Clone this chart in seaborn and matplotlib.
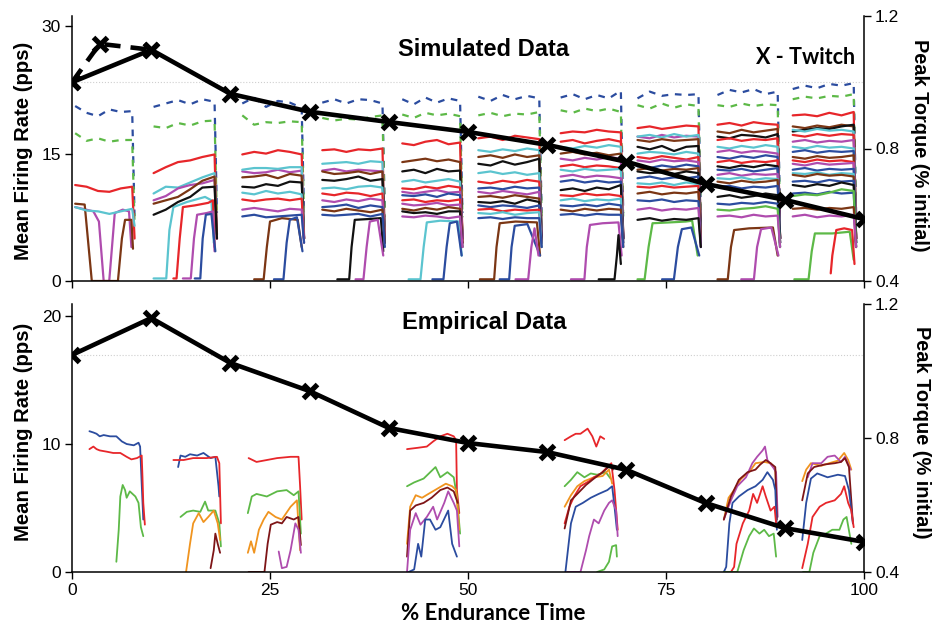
import numpy as np
import matplotlib
matplotlib.use("Agg")
import matplotlib.pyplot as plt
import seaborn as sns
import pandas as pd

sns.set_style("ticks")
plt.rcParams["font.family"] = ["Liberation Sans", "DejaVu Sans"]

COL = {"b": "#2B4C9F", "g": "#5DB947", "r": "#E7262A", "c": "#5BC4CF", "m": "#AF4CAE",
       "n": "#7B3614", "k": "#111111", "o": "#F0941F", "d": "#7E1517"}

# ---------------- twitch torque (right axes) ----------------
twitch_x = [0, 10, 20, 30, 40, 50, 60, 70, 80, 90, 100]
sim_twitch = [1.0, 1.098, 0.965, 0.911, 0.880, 0.850, 0.811, 0.760, 0.693, 0.645, 0.587]
sim_twitch_early_x = [0, 3.5, 10]
sim_twitch_early = [1.0, 1.116, 1.098]
emp_twitch = [1.048, 1.158, 1.024, 0.940, 0.830, 0.785, 0.758, 0.705, 0.606, 0.531, 0.490]

# ---------------- simulated firing rates ----------------
sim_t0 = [0.4, 10.3, 21.5, 31.6, 41.7, 51.3, 61.7, 71.4, 81.5, 91.0]
sim_t1 = [7.6, 18.0, 29.0, 39.2, 49.0, 59.0, 69.3, 79.1, 89.1, 98.7]

sim_plateau_1 = [
    ("b", "--", [20.6, 19.8, 19.4, 20.2, 19.9, 20.0], 7.5),
    ("g", "--", [17.4, 16.5, 16.8, 16.4, 16.6, 16.6], 6.8),
    ("r", "-", [11.3, 11.1, 10.6, 10.5, 10.9, 11.1], 5.0),
    ("c", "-", [8.7, 8.3, 8.2, 7.9, 8.2, 8.5], 6.5),
]
sim_recruit_1 = [
    ("m", [0.4, 2.7, 3.4, 4.0, 4.7, 5.4, 6.4, 7.2, 7.5], [8.7, 8.2, 7.0, 0.0, 0.0, 8.0, 8.4, 8.2, 4.0]),
    ("n", [0.4, 1.6, 2.0, 2.5, 5.8, 6.3, 6.7, 7.5, 7.7], [9.1, 9.0, 5.0, 0.0, 0.0, 5.0, 7.2, 7.2, 3.8]),
]
sim_plateau_2 = [
    ("b", "--", [20.5, 20.9, 21.3, 20.8, 21.4, 21.1], 8.0),
    ("g", "--", [18.2, 18.0, 18.6, 18.3, 18.8, 18.9], 7.5),
    ("r", "-", [12.7, 13.4, 14.0, 14.2, 14.6, 14.9], 5.0),
    ("c", "-", [10.3, 11.1, 11.0, 11.6, 12.2, 12.7], 5.5),
    ("m", "-", [9.5, 10.0, 10.9, 11.3, 11.5, 11.9], 5.0),
    ("n", "-", [9.1, 9.5, 9.9, 10.8, 11.8, 12.3], 5.5),
    ("k", "-", [7.8, 8.4, 9.3, 9.9, 11.0, 11.1], 5.0),
]
sim_recruit_2 = [
    ("c", [10.3, 11.9, 12.3, 12.8, 14.5, 16.8, 17.6, 17.9], [0.3, 0.3, 6.0, 8.7, 9.3, 9.9, 9.5, 4.5]),
    ("r", [12.8, 13.2, 13.6, 14.0, 15.5, 17.2, 17.8, 18.0], [0.3, 0.3, 5.0, 8.7, 8.9, 9.2, 9.5, 4.0]),
    ("m", [14.0, 15.0, 15.4, 15.8, 17.0, 17.8, 18.0], [0.3, 0.3, 5.0, 7.8, 8.0, 8.2, 3.5]),
    ("b", [15.5, 16.2, 16.5, 16.9, 17.6, 18.1], [0.3, 0.3, 5.0, 7.8, 7.9, 3.5]),
]
sim_plateau_3 = [
    ("b", "--", [20.9, 21.6, 20.5, 21.2, 21.0, 20.4], 8.0),
    ("g", "--", [19.5, 18.4, 18.7, 18.6, 18.8, 18.7], 7.5),
    ("r", "-", [14.9, 15.2, 15.0, 15.4, 15.2, 14.9], 5.0),
    ("m", "-", [12.9, 12.7, 12.8, 13.1, 12.8, 13.0], 5.0),
    ("c", "-", [13.1, 13.3, 13.3, 13.2, 13.4, 13.4], 5.5),
    ("n", "-", [12.2, 12.3, 12.5, 12.1, 12.6, 12.4], 5.0),
    ("k", "-", [11.1, 11.0, 11.4, 11.2, 11.7, 11.6], 5.0),
    ("c", "-", [10.4, 10.2, 10.6, 10.3, 10.5, 10.2], 5.0),
    ("r", "-", [9.6, 9.4, 9.6, 9.7, 9.5, 9.7], 5.0),
    ("m", "-", [8.4, 8.6, 8.4, 8.2, 8.5, 8.4], 4.5),
    ("b", "-", [7.6, 7.8, 7.5, 7.6, 7.7, 7.8], 4.5),
]
sim_recruit_3 = [
    ("n", [23.0, 24.2, 24.6, 25.0, 26.5, 28.5, 29.0], [0.2, 0.2, 4.0, 7.0, 7.4, 7.2, 4.0]),
    ("b", [25.5, 26.7, 27.1, 27.5, 28.4, 29.1], [0.2, 0.2, 4.5, 7.2, 7.5, 3.5]),
]
sim_plateau_4 = [
    ("b", "--", [21.0, 21.4, 20.9, 21.4, 21.3, 20.9], 8.0),
    ("g", "--", [19.2, 18.9, 19.1, 19.0, 19.3, 19.5], 7.5),
    ("r", "-", [15.4, 15.5, 15.2, 15.5, 15.4, 15.6], 5.0),
    ("c", "-", [13.8, 13.9, 14.0, 13.8, 14.1, 14.0], 5.0),
    ("m", "-", [13.0, 13.2, 12.9, 13.1, 13.0, 12.9], 5.0),
    ("n", "-", [12.9, 12.6, 12.7, 12.9, 12.6, 12.9], 5.0),
    ("k", "-", [11.9, 11.8, 12.0, 12.3, 11.8, 12.0], 5.0),
    ("c", "-", [10.9, 11.0, 10.8, 11.1, 11.2, 11.0], 5.0),
    ("r", "-", [10.3, 10.1, 10.4, 10.3, 10.0, 10.3], 5.0),
    ("m", "-", [9.5, 9.3, 9.6, 9.4, 9.7, 9.5], 4.5),
    ("b", "-", [8.7, 8.8, 9.0, 8.6, 8.9, 8.7], 4.5),
    ("n", "-", [8.4, 8.2, 8.5, 8.3, 8.1, 8.4], 4.5),
    ("b", "-", [7.8, 7.7, 7.8, 7.9, 7.6, 7.9], 4.0),
]
sim_recruit_4 = [
    ("k", [33.5, 35.0, 35.3, 35.7, 37.5, 39.0, 39.3], [0.2, 0.2, 4.0, 7.2, 7.3, 7.4, 3.5]),
    ("m", [35.8, 36.8, 37.2, 37.6, 38.6, 39.3], [0.2, 0.2, 4.0, 7.0, 7.2, 3.0]),
]
sim_plateau_5 = [
    ("b", "--", [21.4, 20.8, 21.6, 21.0, 21.5, 21.2], 8.0),
    ("g", "--", [19.6, 19.2, 19.8, 19.5, 19.7, 19.4], 7.5),
    ("r", "-", [16.2, 16.0, 16.4, 16.6, 16.1, 16.3], 5.0),
    ("n", "-", [14.0, 14.2, 14.4, 14.1, 14.3, 14.0], 5.0),
    ("k", "-", [12.9, 13.1, 12.7, 13.2, 12.9, 13.0], 5.0),
    ("c", "-", [11.7, 11.9, 11.6, 11.8, 12.0, 11.7], 5.0),
    ("r", "-", [10.9, 10.8, 11.1, 10.9, 11.2, 11.0], 5.0),
    ("m", "-", [10.5, 10.3, 10.5, 10.7, 10.4, 10.5], 5.0),
    ("b", "-", [10.1, 10.0, 10.2, 9.9, 10.3, 10.1], 5.0),
    ("r", "-", [9.5, 9.6, 9.3, 9.5, 9.4, 9.6], 4.5),
    ("m", "-", [9.1, 8.9, 9.0, 9.2, 8.9, 9.0], 4.5),
    ("n", "-", [8.5, 8.3, 8.6, 8.4, 8.7, 8.5], 4.5),
    ("k", "-", [8.2, 8.0, 8.1, 7.9, 8.2, 8.2], 4.0),
    ("m", "-", [7.6, 7.5, 7.7, 7.6, 7.4, 7.6], 4.0),
]
sim_recruit_5 = [
    ("c", [42.5, 44.0, 44.4, 44.8, 46.5, 48.8, 49.2], [0.2, 0.2, 4.0, 6.9, 7.1, 7.0, 3.0]),
    ("b", [45.5, 46.9, 47.3, 47.7, 48.6, 49.2], [0.2, 0.2, 4.0, 6.8, 7.0, 3.0]),
]
sim_plateau_6 = [
    ("b", "--", [21.7, 21.2, 21.9, 21.4, 21.8, 21.5], 8.0),
    ("g", "--", [19.5, 19.8, 19.4, 19.7, 19.6, 19.9], 7.5),
    ("r", "-", [16.8, 17.0, 16.6, 17.1, 16.9, 16.7], 5.0),
    ("c", "-", [15.4, 15.2, 15.5, 15.3, 15.6, 15.4], 5.0),
    ("n", "-", [14.6, 14.8, 14.5, 14.9, 14.6, 14.8], 5.0),
    ("k", "-", [13.8, 13.6, 14.1, 13.7, 14.0, 14.4], 5.0),
    ("c", "-", [12.7, 12.9, 12.6, 12.8, 12.5, 12.7], 5.0),
    ("r", "-", [11.7, 11.5, 11.8, 11.6, 11.9, 11.7], 5.0),
    ("b", "-", [10.9, 11.0, 10.8, 11.1, 10.9, 11.0], 5.0),
    ("m", "-", [10.5, 10.3, 10.6, 10.4, 10.2, 10.5], 4.5),
    ("n", "-", [9.9, 10.0, 9.8, 10.1, 9.9, 9.7], 4.5),
    ("k", "-", [9.3, 9.2, 9.4, 9.1, 9.6, 9.3], 4.5),
    ("b", "-", [8.9, 8.7, 8.9, 8.8, 8.6, 8.9], 4.5),
    ("r", "-", [8.4, 8.5, 8.2, 8.4, 8.3, 8.4], 4.0),
    ("c", "-", [8.0, 7.9, 8.1, 7.8, 8.0, 8.1], 4.0),
    ("b", "-", [7.4, 7.5, 7.3, 7.5, 7.4, 7.4], 4.0),
]
sim_recruit_6 = [
    ("n", [51.5, 53.3, 53.6, 54.0, 56.0, 58.7, 59.1], [0.2, 0.2, 4.0, 6.8, 7.0, 6.9, 3.0]),
    ("b", [54.0, 55.2, 55.5, 55.9, 57.5, 59.1], [0.2, 0.2, 4.0, 6.5, 6.7, 3.0]),
    ("m", [56.0, 57.6, 58.0, 58.4, 58.9], [0.2, 0.2, 4.0, 6.2, 3.0]),
]
sim_plateau_7 = [
    ("b", "--", [21.6, 22.0, 21.4, 21.9, 21.5, 22.4], 8.0),
    ("g", "--", [20.1, 19.8, 20.3, 20.0, 20.3, 19.9], 7.5),
    ("r", "-", [17.4, 17.6, 17.5, 17.8, 17.6, 17.5], 5.0),
    ("r", "-", [16.4, 16.6, 16.2, 16.5, 16.7, 16.4], 5.0),
    ("c", "-", [15.8, 15.6, 15.9, 15.7, 16.0, 15.8], 5.0),
    ("n", "-", [15.0, 15.2, 14.9, 15.1, 14.8, 15.0], 5.0),
    ("m", "-", [14.4, 14.2, 14.5, 14.3, 14.6, 14.4], 5.0),
    ("r", "-", [13.5, 13.7, 13.4, 13.6, 13.5, 13.3], 5.0),
    ("c", "-", [13.1, 12.9, 13.2, 13.0, 13.1, 13.2], 5.0),
    ("m", "-", [12.3, 12.5, 12.2, 12.4, 12.3, 12.1], 5.0),
    ("b", "-", [11.7, 11.9, 11.6, 11.8, 11.6, 11.7], 5.0),
    ("k", "-", [10.7, 10.9, 10.6, 11.0, 10.8, 11.3], 5.0),
    ("r", "-", [10.1, 10.0, 10.3, 10.1, 10.2, 10.0], 4.5),
    ("c", "-", [9.5, 9.7, 9.4, 9.6, 9.5, 9.7], 4.5),
    ("b", "-", [8.9, 8.8, 9.0, 8.8, 9.1, 8.9], 4.5),
    ("n", "-", [8.4, 8.2, 8.5, 8.3, 8.5, 8.4], 4.0),
    ("b", "-", [7.8, 7.9, 7.7, 7.9, 7.8, 7.8], 4.0),
]
sim_recruit_7 = [
    ("m", [63.0, 64.7, 65.0, 65.4, 67.0, 69.0, 69.4], [0.2, 0.2, 4.0, 6.6, 6.8, 6.9, 3.0]),
    ("k", [66.5, 68.5, 68.8, 69.0, 69.3], [0.2, 0.2, 3.0, 5.4, 2.0]),
]
sim_plateau_8 = [
    ("b", "--", [21.5, 22.3, 21.8, 22.0, 21.9, 22.0], 8.0),
    ("g", "--", [20.7, 20.3, 20.9, 20.4, 20.8, 20.6], 7.5),
    ("r", "-", [18.0, 18.2, 17.9, 18.1, 18.3, 18.2], 5.0),
    ("m", "-", [17.0, 16.8, 17.2, 16.9, 17.1, 17.0], 5.0),
    ("c", "-", [17.0, 17.2, 16.9, 17.3, 17.0, 17.2], 5.0),
    ("n", "-", [16.6, 16.4, 16.7, 16.5, 16.6, 16.7], 5.0),
    ("k", "-", [15.8, 15.5, 15.9, 15.3, 15.8, 15.9], 5.0),
    ("c", "-", [15.0, 15.2, 15.1, 14.9, 15.2, 15.0], 5.0),
    ("r", "-", [14.6, 14.4, 14.7, 14.5, 14.3, 14.6], 5.0),
    ("m", "-", [14.2, 14.0, 14.3, 14.1, 14.2, 14.0], 5.0),
    ("b", "-", [13.5, 13.3, 13.6, 13.4, 13.7, 13.5], 5.0),
    ("n", "-", [13.1, 13.3, 13.0, 13.2, 13.1, 13.3], 5.0),
    ("k", "-", [12.9, 12.7, 12.8, 12.6, 12.9, 12.7], 5.0),
    ("b", "-", [12.1, 12.3, 12.0, 12.2, 12.1, 12.3], 4.5),
    ("c", "-", [11.5, 11.4, 11.6, 11.3, 11.6, 11.4], 4.5),
    ("r", "-", [11.1, 11.0, 11.2, 11.0, 11.1, 11.2], 4.5),
    ("n", "-", [10.3, 10.5, 10.2, 10.4, 10.3, 10.5], 4.5),
    ("b", "-", [9.5, 9.4, 9.6, 9.3, 9.5, 9.4], 4.0),
    ("m", "-", [8.4, 8.6, 8.3, 8.5, 8.4, 8.6], 4.0),
    ("k", "-", [7.2, 7.4, 7.1, 7.3, 7.2, 7.4], 4.0),
]
sim_recruit_8 = [
    ("g", [71.4, 72.3, 72.8, 73.3, 75.5, 77.5, 78.3, 79.0], [0.2, 0.2, 4.0, 6.8, 6.9, 7.0, 7.1, 3.0]),
    ("b", [74.5, 76.0, 76.5, 77.0, 78.2, 79.2], [0.2, 0.2, 4.0, 6.1, 6.3, 3.0]),
]
sim_plateau_9 = [
    ("b", "--", [21.9, 22.5, 22.2, 22.6, 22.0, 22.3], 8.0),
    ("g", "--", [20.7, 20.5, 20.9, 20.6, 20.8, 20.7], 7.5),
    ("r", "-", [18.4, 18.6, 18.3, 18.7, 18.5, 18.4], 5.0),
    ("n", "-", [17.6, 17.4, 17.8, 17.5, 17.7, 17.9], 5.0),
    ("k", "-", [17.0, 16.8, 17.2, 17.1, 16.9, 17.3], 5.0),
    ("r", "-", [16.6, 16.8, 16.5, 16.7, 16.6, 16.8], 5.0),
    ("c", "-", [15.8, 15.6, 15.9, 15.7, 16.0, 15.8], 5.0),
    ("m", "-", [15.2, 15.4, 15.1, 15.3, 15.2, 15.0], 5.0),
    ("b", "-", [14.6, 14.4, 14.7, 14.5, 14.8, 14.6], 5.0),
    ("r", "-", [14.0, 14.2, 13.9, 14.1, 14.0, 14.2], 5.0),
    ("k", "-", [13.5, 13.3, 13.6, 13.4, 13.7, 13.5], 5.0),
    ("b", "-", [13.1, 13.0, 13.2, 12.9, 13.1, 13.3], 5.0),
    ("m", "-", [12.5, 12.7, 12.4, 12.6, 12.5, 12.6], 4.5),
    ("c", "-", [12.1, 12.0, 12.2, 11.9, 12.1, 12.0], 4.5),
    ("n", "-", [11.7, 11.5, 11.8, 11.6, 11.7, 11.9], 4.5),
    ("b", "-", [11.1, 11.2, 10.9, 11.1, 11.0, 11.2], 4.5),
    ("k", "-", [9.9, 10.1, 9.8, 10.0, 10.3, 10.1], 4.5),
    ("b", "-", [9.1, 9.0, 9.2, 9.1, 9.3, 9.1], 4.0),
    ("g", "-", [8.4, 8.3, 8.5, 8.6, 8.8, 8.5], 4.0),
    ("m", "-", [7.6, 7.7, 7.5, 7.8, 7.6, 7.7], 4.0),
]
sim_recruit_9 = [
    ("n", [81.5, 82.8, 83.2, 83.6, 85.5, 88.5, 89.1], [0.2, 0.2, 4.0, 6.0, 6.2, 6.3, 3.0]),
    ("m", [84.5, 86.1, 86.5, 87.0, 88.3, 89.2], [0.2, 0.2, 4.0, 6.1, 6.3, 3.0]),
]
sim_plateau_10 = [
    ("b", "--", [22.6, 23.0, 22.7, 23.2, 23.0, 23.3], 8.0),
    ("g", "--", [21.4, 21.7, 21.5, 21.8, 21.7, 22.0], 7.5),
    ("r", "-", [19.5, 19.6, 19.4, 19.8, 19.5, 19.9], 5.0),
    ("n", "-", [18.2, 18.0, 18.3, 18.1, 18.4, 18.2], 5.0),
    ("k", "-", [17.6, 17.8, 18.0, 17.9, 18.2, 18.4], 5.0),
    ("c", "-", [17.8, 17.6, 17.9, 17.7, 17.8, 17.6], 5.0),
    ("r", "-", [17.2, 17.0, 17.3, 17.1, 17.3, 17.2], 5.0),
    ("m", "-", [16.4, 16.6, 16.3, 16.5, 16.4, 16.6], 5.0),
    ("c", "-", [15.8, 15.6, 15.9, 15.7, 15.8, 15.6], 5.0),
    ("b", "-", [15.2, 15.4, 15.1, 15.3, 15.2, 15.3], 5.0),
    ("n", "-", [14.6, 14.4, 14.7, 14.5, 14.6, 14.8], 5.0),
    ("r", "-", [14.2, 14.0, 14.3, 14.1, 14.2, 14.0], 5.0),
    ("m", "-", [13.8, 13.6, 13.9, 13.7, 13.8, 13.9], 5.0),
    ("b", "-", [13.1, 13.3, 13.0, 13.2, 13.1, 13.2], 4.5),
    ("c", "-", [12.7, 12.6, 12.8, 12.5, 12.7, 12.6], 4.5),
    ("n", "-", [12.5, 12.3, 12.6, 12.4, 12.5, 12.3], 4.5),
    ("b", "-", [11.7, 11.8, 11.6, 11.9, 11.7, 11.8], 4.5),
    ("k", "-", [11.3, 11.1, 11.4, 11.2, 11.6, 11.3], 4.5),
    ("b", "-", [10.3, 10.4, 10.2, 10.5, 10.3, 10.4], 4.0),
    ("g", "-", [10.0, 10.2, 10.1, 10.4, 10.8, 10.6], 4.0),
    ("n", "-", [8.5, 8.6, 8.4, 8.6, 8.5, 8.7], 4.0),
    ("m", "-", [7.6, 7.8, 7.5, 7.7, 7.6, 7.8], 4.0),
]
sim_recruit_10 = [
    ("g", [91.2, 93.0, 93.4, 93.8, 96.0, 98.2, 98.7], [0.2, 0.2, 3.5, 5.6, 5.6, 5.8, 2.5]),
    ("r", [95.8, 96.0, 96.5, 97.5, 98.5, 98.8], [0.9, 3.0, 6.0, 6.2, 6.0, 2.0]),
]

sim_plateaus = [sim_plateau_1, sim_plateau_2, sim_plateau_3, sim_plateau_4, sim_plateau_5,
                sim_plateau_6, sim_plateau_7, sim_plateau_8, sim_plateau_9, sim_plateau_10]
sim_recruits = [sim_recruit_1, sim_recruit_2, sim_recruit_3, sim_recruit_4, sim_recruit_5,
                sim_recruit_6, sim_recruit_7, sim_recruit_8, sim_recruit_9, sim_recruit_10]

# ---------------- empirical firing rates ----------------
emp_traces_1 = [
    ("b", [2.2, 2.7, 3.1, 3.5, 4.0, 4.8, 5.6, 6.3, 6.9, 7.8, 8.4, 8.6, 8.8, 9.0],
     [11.0, 10.9, 10.8, 10.6, 10.7, 10.6, 10.6, 10.2, 10.0, 9.9, 10.1, 9.8, 6.9, 4.1]),
    ("r", [2.2, 2.7, 3.1, 3.5, 4.4, 5.2, 6.1, 6.9, 7.5, 8.2, 8.8, 8.9, 9.0, 9.2],
     [9.6, 9.8, 9.6, 9.5, 9.4, 9.3, 9.3, 9.0, 8.8, 8.9, 9.1, 7.4, 5.4, 3.7]),
    ("g", [5.6, 5.9, 6.1, 6.4, 6.7, 6.9, 7.3, 8.0, 8.4, 8.7, 9.0],
     [0.8, 3.3, 5.9, 6.8, 6.4, 5.8, 6.3, 5.9, 5.4, 3.5, 2.8]),
]
emp_traces_2 = [
    ("b", [13.4, 13.7, 14.3, 14.9, 15.8, 16.6, 17.5, 18.1, 18.5, 18.6],
     [8.2, 9.1, 9.0, 9.2, 9.1, 9.3, 8.9, 9.0, 6.7, 5.9]),
    ("r", [12.8, 14.1, 15.3, 17.0, 18.3, 18.6, 18.8], [8.75, 8.75, 8.9, 8.9, 9.0, 8.5, 3.8]),
    ("g", [13.7, 14.5, 15.3, 16.2, 16.8, 17.2, 18.1, 18.6, 18.8],
     [4.3, 4.7, 4.8, 4.7, 5.5, 4.8, 4.8, 3.8, 2.0]),
    ("o", [14.4, 14.9, 15.3, 16.0, 16.6, 17.2, 17.9, 18.4, 18.7],
     [0.0, 2.2, 3.8, 4.6, 3.9, 4.3, 4.8, 3.8, 2.5]),
    ("d", [17.5, 17.9, 18.1, 18.4, 18.7], [0.3, 1.7, 3.0, 2.2, 1.5]),
]
emp_traces_3 = [
    ("r", [22.3, 23.3, 24.6, 25.9, 27.6, 28.6, 28.8, 29.0], [8.9, 8.6, 8.75, 8.9, 9.0, 9.0, 6.7, 4.1]),
    ("g", [22.2, 22.7, 23.3, 24.6, 25.9, 27.1, 28.0, 28.6, 28.9],
     [4.6, 5.9, 6.1, 5.9, 6.3, 6.4, 6.0, 6.3, 3.0]),
    ("o", [22.2, 22.6, 23.0, 23.6, 24.2, 24.8, 25.7, 26.5, 27.6, 28.4, 28.8],
     [1.5, 2.4, 1.5, 3.3, 4.1, 4.7, 4.3, 4.1, 5.1, 5.6, 1.7]),
    ("d", [22.3, 24.3, 24.7, 25.1, 25.9, 26.5, 27.1, 28.0, 28.6, 28.9],
     [0.0, 0.0, 2.2, 3.7, 3.9, 3.8, 4.3, 4.1, 4.3, 2.1]),
    ("m", [26.1, 26.5, 27.1, 27.6, 28.2, 28.6, 28.9], [1.6, 0.3, 0.4, 1.7, 3.8, 3.3, 1.5]),
]
emp_traces_4 = [
    ("r", [42.3, 43.6, 44.8, 45.6, 46.5, 47.4, 48.2, 48.5, 48.6, 48.9],
     [9.6, 9.7, 9.8, 10.2, 10.6, 10.8, 10.6, 10.3, 6.4, 4.6]),
    ("g", [42.3, 43.2, 44.4, 45.9, 46.5, 47.4, 48.2, 48.6, 49.0],
     [6.7, 7.0, 7.3, 8.2, 7.4, 7.8, 7.4, 5.9, 3.0]),
    ("o", [42.3, 42.7, 43.4, 44.2, 45.0, 46.1, 47.2, 48.0, 48.5, 48.9],
     [2.2, 5.1, 6.0, 5.8, 6.1, 6.5, 6.9, 6.7, 6.4, 3.3]),
    ("d", [42.3, 42.7, 43.4, 44.4, 45.4, 46.5, 47.4, 48.2, 48.7],
     [1.2, 4.8, 5.2, 5.4, 5.8, 6.4, 6.6, 6.3, 5.4]),
    ("m", [42.3, 42.7, 43.4, 44.0, 44.8, 45.6, 46.1, 47.0, 47.5, 48.2, 48.6, 48.9],
     [0.0, 3.3, 4.6, 3.7, 4.3, 5.1, 4.1, 5.4, 6.3, 5.4, 4.8, 2.0]),
    ("b", [42.5, 43.2, 43.7, 44.1, 44.6, 45.2, 45.9, 46.5, 47.5, 48.0, 48.6],
     [0.0, 0.2, 2.2, 1.2, 4.1, 4.1, 3.3, 3.5, 4.8, 2.2, 1.2]),
]
emp_traces_5 = [
    ("r", [62.2, 63.0, 63.6, 64.2, 65.1, 65.7, 66.2, 66.7, 67.2],
     [10.3, 10.6, 10.8, 10.8, 11.2, 10.6, 9.8, 10.6, 10.4]),
    ("g", [62.2, 63.0, 63.8, 64.7, 65.5, 66.3, 67.4, 68.0], [6.7, 7.2, 7.8, 7.4, 7.7, 7.6, 7.8, 7.3]),
    ("o", [62.2, 63.0, 63.8, 64.7, 65.9, 67.0, 67.8, 68.2], [5.1, 6.0, 6.7, 7.1, 7.4, 7.5, 8.0, 6.9]),
    ("r", [62.2, 62.8, 63.4, 64.2, 65.3, 65.9, 66.8, 67.6, 68.1, 68.5, 68.9],
     [3.8, 5.1, 5.9, 6.7, 7.1, 7.4, 7.7, 8.2, 8.5, 6.4, 3.3]),
    ("d", [62.2, 63.0, 63.8, 64.9, 65.9, 67.0, 67.9, 68.3], [3.4, 5.6, 6.1, 6.8, 7.3, 7.8, 8.3, 8.0]),
    ("b", [62.3, 63.0, 63.6, 64.5, 65.5, 66.5, 67.6, 68.2, 68.5, 68.8],
     [0.0, 3.8, 5.1, 5.4, 5.8, 6.1, 6.4, 6.7, 5.1, 3.3]),
    ("m", [62.5, 64.2, 64.9, 65.3, 65.9, 66.5, 67.2, 67.8, 68.2, 68.7, 68.9],
     [0.0, 0.0, 1.7, 2.8, 4.1, 3.8, 4.8, 5.4, 5.6, 4.8, 2.8]),
    ("g", [66.3, 67.2, 67.8, 68.2, 68.7, 68.8], [0.0, 0.2, 0.8, 2.0, 2.1, 1.2]),
]
emp_traces_6 = [
    ("o", [82.3, 82.9, 83.6, 84.5, 85.5, 86.3, 87.4, 88.2, 88.8, 89.0],
     [4.1, 5.8, 6.4, 7.3, 7.8, 8.5, 8.6, 8.5, 8.0, 5.4]),
    ("m", [82.3, 83.2, 84.0, 85.1, 85.9, 86.5, 87.2, 87.5, 87.8, 88.5, 88.9, 89.1],
     [4.1, 5.6, 6.7, 7.4, 8.5, 9.0, 9.5, 9.8, 8.75, 8.2, 7.8, 4.3]),
    ("d", [82.3, 83.2, 84.2, 85.3, 86.3, 86.9, 87.6, 88.2, 88.8, 89.0],
     [4.1, 5.9, 7.2, 7.8, 8.0, 8.4, 8.75, 8.5, 8.2, 4.1]),
    ("b", [82.3, 82.6, 83.0, 83.4, 84.2, 85.3, 86.3, 87.2, 87.8, 88.5, 88.8, 89.0],
     [0.0, 0.4, 3.8, 5.4, 5.9, 6.4, 6.7, 7.2, 7.8, 7.2, 6.4, 3.3]),
    ("r", [83.2, 83.6, 83.9, 84.7, 85.5, 86.0, 86.5, 87.2, 87.6, 88.2, 88.7, 88.9],
     [0.0, 0.4, 2.2, 3.8, 4.8, 6.1, 5.4, 6.7, 5.9, 4.8, 5.1, 3.8]),
    ("g", [82.3, 84.0, 84.8, 85.5, 86.1, 86.8, 87.4, 88.0, 88.6, 88.9],
     [0.0, 0.0, 1.7, 2.8, 3.4, 3.0, 3.3, 2.8, 3.0, 1.2]),
]
emp_traces_7 = [
    ("o", [92.2, 92.7, 93.3, 94.6, 95.6, 96.7, 97.5, 98.0, 98.4], [7.1, 8.0, 8.5, 8.3, 8.5, 8.7, 9.3, 8.75, 8.0]),
    ("m", [92.9, 93.5, 94.6, 95.4, 96.3, 97.1, 97.6, 98.3], [7.4, 8.5, 8.5, 9.0, 9.1, 8.6, 9.0, 8.0]),
    ("d", [92.2, 92.9, 93.7, 95.0, 96.3, 97.1, 97.6, 98.1, 98.6], [5.6, 7.7, 8.2, 8.4, 8.5, 8.6, 8.9, 8.2, 3.8]),
    ("b", [92.2, 92.7, 93.3, 94.1, 95.4, 96.7, 97.6, 98.1, 98.6], [2.5, 5.4, 7.3, 7.7, 7.4, 7.6, 7.5, 6.4, 3.8]),
    ("r", [92.2, 92.9, 93.5, 94.4, 95.2, 96.3, 97.1, 97.5, 98.0, 98.4, 98.7],
     [0.3, 2.2, 4.3, 5.1, 5.4, 5.6, 6.1, 6.7, 5.4, 4.8, 3.5]),
    ("g", [92.3, 93.1, 93.6, 94.4, 95.2, 96.0, 96.9, 97.4, 97.8, 98.4],
     [0.0, 0.0, 1.5, 2.8, 3.0, 3.3, 3.3, 4.1, 4.3, 2.2]),
]
emp_traces = [emp_traces_1, emp_traces_2, emp_traces_3, emp_traces_4,
              emp_traces_5, emp_traces_6, emp_traces_7]

x_ticks = [0, 25, 50, 75, 100]

# ---------------- figure ----------------
W, H = 944, 623
fig = plt.figure(figsize=(W / 100, H / 100), dpi=100)


def rect(l, t, r, b):
    return [l / W, 1 - b / H, (r - l) / W, (b - t) / H]


ax1 = fig.add_axes(rect(72, 16, 864, 281))
ax2 = fig.add_axes(rect(72, 304, 864, 572))

LW = 1.6
DASH = (0, (3.0, 3.0))

# simulated traces
for t0, t1, plat, rec in zip(sim_t0, sim_t1, sim_plateaus, sim_recruits):
    for key, xs, ys in rec:
        ax1.plot(xs, ys, color=COL[key], lw=LW)
    for key, ls, vals, drop in plat:
        xs = list(np.linspace(t0, t1, len(vals))) + [t1 + 0.3]
        ys = list(vals) + [drop]
        ax1.plot(xs, ys, color=COL[key], lw=LW, ls=DASH if ls == "--" else "-")

# empirical traces (long table, drawn with seaborn, one unit per trace)
rows = []
uid = 0
for group in emp_traces:
    for key, xs, ys in group:
        for xv, yv in zip(xs, ys):
            rows.append((uid, key, xv, yv))
        uid += 1
df_emp_tr = pd.DataFrame(rows, columns=["unit", "key", "x", "y"])
for u, sub in df_emp_tr.groupby("unit", sort=False):
    sns.lineplot(data=sub, x="x", y="y", ax=ax2, color=COL[sub["key"].iloc[0]],
                 lw=1.3, sort=False, estimator=None, legend=False)
ax2.set_xlabel("")
ax2.set_ylabel("")

for ax, top in ((ax1, 31.2), (ax2, 20.94)):
    ax.set_xlim(0, 100)
    ax.set_ylim(0, top)
    ax.spines["top"].set_visible(False)
    ax.spines["right"].set_visible(False)
    ax.set_xticks(x_ticks)
    ax.tick_params(direction="out", length=5, width=1, labelsize=12.5, colors="black", pad=3)
    for s in ("left", "bottom"):
        ax.spines[s].set_linewidth(1.1)
        ax.spines[s].set_color("black")

ax1.set_yticks([0, 15, 30])
ax1.set_xticklabels([])
ax2.set_yticks([0, 10, 20])

# twin axes for torque
tw1 = ax1.twinx()
tw2 = ax2.twinx()
for tw in (tw1, tw2):
    tw.set_ylim(0.4, 1.2)
    tw.set_xlim(0, 100)
    tw.set_yticks([0.4, 0.8, 1.2])
    tw.set_yticklabels(["0.4", "0.8", "1.2"])
    for s in ("top", "left", "bottom"):
        tw.spines[s].set_visible(False)
    tw.spines["right"].set_linewidth(1.1)
    tw.spines["right"].set_color("black")
    tw.tick_params(direction="out", length=5, width=1, labelsize=12.5, colors="black", pad=3)
    tw.grid(False)

tw1.axhline(sim_twitch[0], color="#cfcfcf", lw=0.8, ls=":", zorder=1)
tw2.axhline(emp_twitch[0], color="#cfcfcf", lw=0.8, ls=":", zorder=1)

MK = dict(marker="x", markersize=10.5, markeredgewidth=3.7, color="black", zorder=6,
          solid_joinstyle="round", dash_capstyle="butt")
tw1.plot(sim_twitch_early_x, sim_twitch_early, lw=3.3, ls=(0, (3.5, 2.2)), **MK)
tw1.plot(twitch_x, sim_twitch, lw=3.3, **MK)
tw2.plot(twitch_x, emp_twitch, lw=3.3, **MK)

HB = dict(fontfamily=["Liberation Sans", "DejaVu Sans"], fontweight="bold", color="black")
fig.text(24 / W, 1 - 151 / H, "Mean Firing Rate (pps)", rotation=90, ha="center", va="center", fontsize=14.6, **HB)
fig.text(24 / W, 1 - 432 / H, "Mean Firing Rate (pps)", rotation=90, ha="center", va="center", fontsize=14.6, **HB)
fig.text(920 / W, 1 - 145 / H, "Peak Torque (% initial)", rotation=270, ha="center", va="center", fontsize=14.4, **HB)
fig.text(921 / W, 1 - 432 / H, "Peak Torque (% initial)", rotation=270, ha="center", va="center", fontsize=14.4, **HB)
fig.text(484 / W, 1 - 49 / H, "Simulated Data", ha="center", va="center", fontsize=17, **HB)
fig.text(484 / W, 1 - 322 / H, "Empirical Data", ha="center", va="center", fontsize=17, **HB)

CB = dict(fontfamily=["Lato", "DejaVu Sans"], fontweight="bold", color="black")
fig.text(493 / W, 1 - 613 / H, "% Endurance Time", ha="center", va="center", fontsize=16, **CB)
fig.text(806 / W, 1 - 57 / H, "X - Twitch", ha="center", va="center", fontsize=15.5, **CB)

fig.savefig("out.png", dpi=100)
